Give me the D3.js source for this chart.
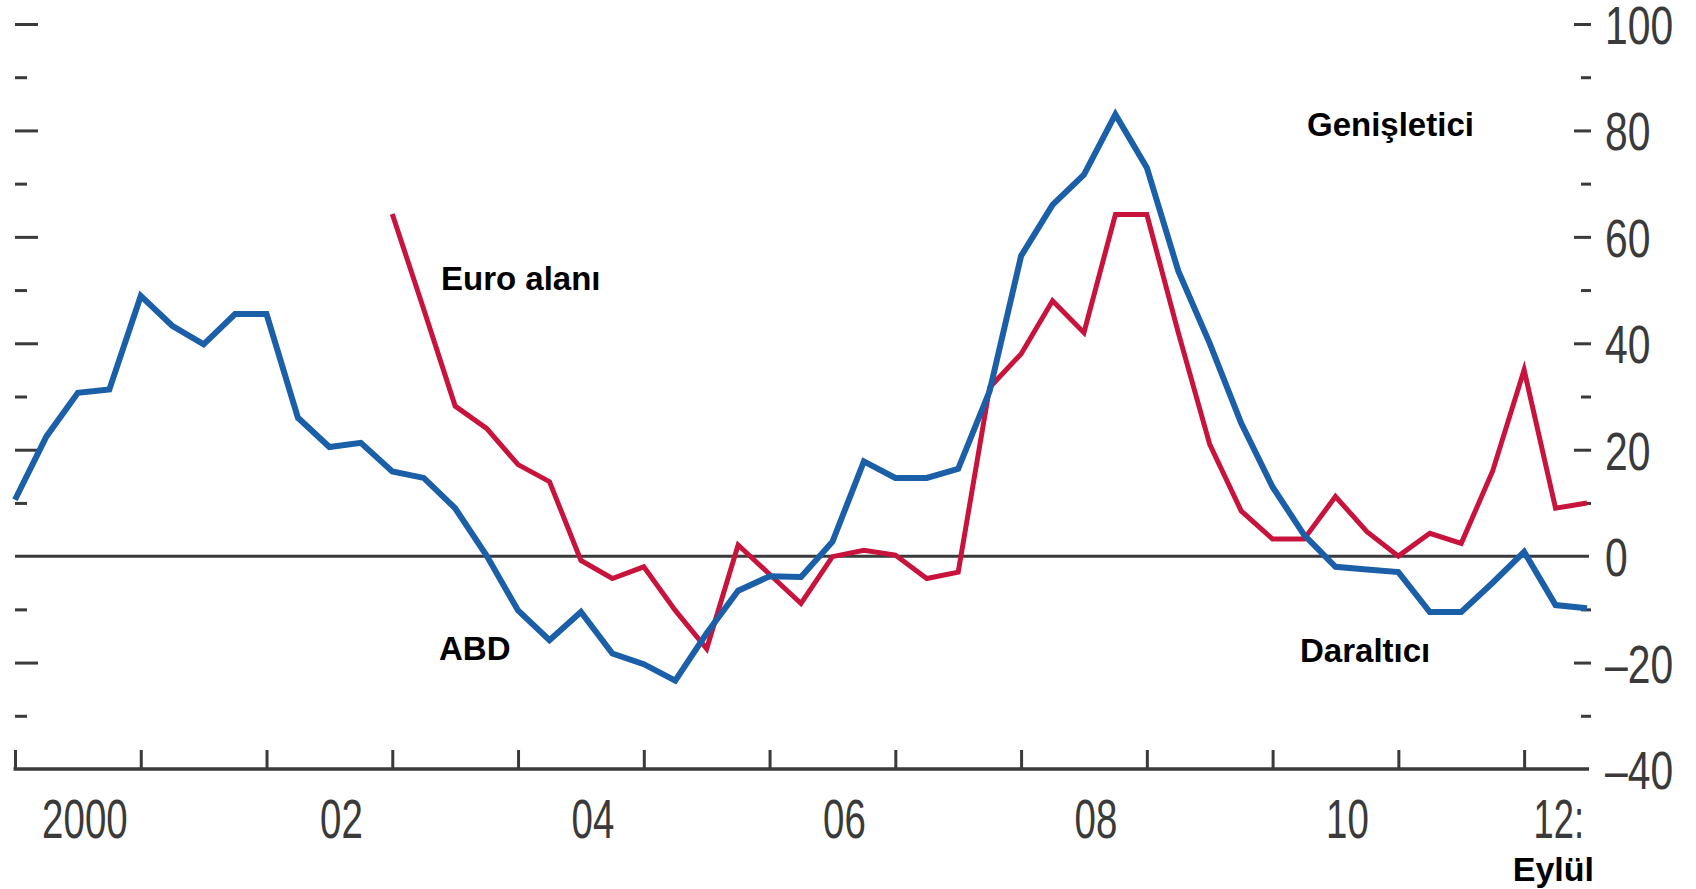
<!DOCTYPE html>
<meta charset="utf-8">
<style>
body { margin: 0; background: #fff; }
svg { display: block; }
.tick line { stroke: #3a3a3a; stroke-width: 3px; }
.num { font-family: "Liberation Sans", Arial, sans-serif; fill: #3a3a3a; }
.lbl { font-family: "Liberation Sans", Arial, sans-serif; font-weight: bold; font-size: 33px; fill: #000; }
</style>
<svg width="1696" height="889"></svg>
<script src="https://d3js.org/d3.v7.min.js"></script>
<script>

// quarterly data, 2000Q1 .. 2012Q3
var quarters = ["2000Q1","2000Q2","2000Q3","2000Q4","2001Q1","2001Q2","2001Q3","2001Q4",
  "2002Q1","2002Q2","2002Q3","2002Q4","2003Q1","2003Q2","2003Q3","2003Q4",
  "2004Q1","2004Q2","2004Q3","2004Q4","2005Q1","2005Q2","2005Q3","2005Q4",
  "2006Q1","2006Q2","2006Q3","2006Q4","2007Q1","2007Q2","2007Q3","2007Q4",
  "2008Q1","2008Q2","2008Q3","2008Q4","2009Q1","2009Q2","2009Q3","2009Q4",
  "2010Q1","2010Q2","2010Q3","2010Q4","2011Q1","2011Q2","2011Q3","2011Q4",
  "2012Q1","2012Q2","2012Q3"];

var abd = [10.6, 22.5, 30.7, 31.3, 48.9, 43.3, 39.8, 45.5,
  45.5, 26, 20.5, 21.3, 15.9, 14.7, 9, 0.1,
  -10.2, -15.8, -10.5, -18.3, -20.3, -23.4, -14.5, -6.5,
  -3.8, -3.9, 2.7, 17.8, 14.7, 14.7, 16.4, 31,
  56.4, 66, 71.7, 83, 73, 53.6, 40, 25,
  13, 4, -2, -2.5, -3, -10.5, -10.5, -5,
  0.8, -9.2, -9.8];

var euro = [null, null, null, null, null, null, null, null,
  null, null, null, null, 64.3, 46.4, 28.2, 24,
  17.2, 14, -0.8, -4.2, -2, -10.2, -17.4, 2.1,
  -3.4, -8.9, -0.1, 1.1, 0.2, -4.2, -3, 31.7,
  38, 48, 42, 64.2, 64.2, 42, 21, 8.5,
  3.2, 3.2, 11.2, 4.6, 0, 4.3, 2.4, 16,
  35, 9, 10];

var yearTicks = [2000, 2001, 2002, 2003, 2004, 2005, 2006, 2007, 2008, 2009, 2010, 2011, 2012];
var yearLabels = [[2000, "2000"], [2002, "02"], [2004, "04"], [2006, "06"], [2008, "08"], [2010, "10"]];
var yMajor = [100, 80, 60, 40, 20, 0, -20, -40];
var yMinor = [90, 70, 50, 30, 10, -10, -30];
var yLabels = ["100", "80", "60", "40", "20", "0", "\u201320", "\u201340"];

var svg = d3.select("svg");

function qToYear(q) { return +q.slice(0, 4) + (+q.slice(5) - 1) / 4; }

var x = d3.scaleLinear().domain([2000, 2012.5]).range([15, 1587]);
var y = d3.scaleLinear().domain([-40, 100]).range([769, 24]);

var inner = yMajor.filter(function(v) { return v != 0 && v != -40; });

// left ticks
svg.append("g").attr("transform", "translate(15,0)")
    .call(d3.axisRight(y).tickValues(inner).tickSize(23).tickFormat(""))
    .call(function(g) { g.select(".domain").remove(); });
svg.append("g").attr("transform", "translate(15,0)")
    .call(d3.axisRight(y).tickValues(yMinor).tickSize(12).tickFormat(""))
    .call(function(g) { g.select(".domain").remove(); });

// right ticks
svg.append("g").attr("transform", "translate(1591,0)")
    .call(d3.axisLeft(y).tickValues(inner).tickSize(17).tickFormat(""))
    .call(function(g) { g.select(".domain").remove(); });
svg.append("g").attr("transform", "translate(1591,0)")
    .call(d3.axisLeft(y).tickValues(yMinor).tickSize(10).tickFormat(""))
    .call(function(g) { g.select(".domain").remove(); });

// right labels
svg.append("g").selectAll("text")
  .data(yMajor)
  .enter().append("text")
    .attr("class", "num")
    .style("font-size", "53px")
    .attr("transform", function(d) { return "translate(1605," + (y(d) + 20) + ") scale(0.77,1)"; })
    .text(function(d, i) { return yLabels[i]; });

// zero line
svg.append("line")
    .attr("x1", x(2000)).attr("x2", 1589)
    .attr("y1", y(0)).attr("y2", y(0))
    .style("stroke", "#3a3a3a").style("stroke-width", 3);

// bottom axis
var xa = svg.append("g").attr("transform", "translate(0," + y(-40) + ")")
    .call(d3.axisBottom(x).tickValues(yearTicks).tickSize(-19).tickSizeOuter(0).tickFormat(""));
xa.select(".domain").remove();
svg.append("line")
    .attr("x1", x(2000) - 1.5).attr("x2", 1589)
    .attr("y1", y(-40)).attr("y2", y(-40))
    .style("stroke", "#3a3a3a").style("stroke-width", 3.5);

svg.append("g").selectAll("text")
  .data(yearLabels)
  .enter().append("text")
    .attr("class", "num")
    .style("font-size", "55px")
    .attr("text-anchor", "middle")
    .attr("transform", function(d) {
      var dx = d[1].length > 2 ? 7 : 12;
      return "translate(" + (x(d[0] + 0.5) + dx) + ",838) scale(0.70,1)";
    })
    .text(function(d) { return d[1]; });

svg.append("text")
    .attr("class", "num")
    .style("font-size", "55px")
    .attr("text-anchor", "end")
    .attr("transform", "translate(1584,838) scale(0.66,1)")
    .text("12:");

// series
var line = d3.line()
    .defined(function(d) { return d[1] != null; })
    .x(function(d) { return x(qToYear(d[0])); })
    .y(function(d) { return y(d[1]); });

svg.append("path")
    .datum(quarters.map(function(q, i) { return [q, euro[i]]; }))
    .attr("d", line)
    .style("fill", "none").style("stroke", "#c8143c").style("stroke-width", 5)
    .style("stroke-linejoin", "miter");

svg.append("path")
    .datum(quarters.map(function(q, i) { return [q, abd[i]]; }))
    .attr("d", line)
    .style("fill", "none").style("stroke", "#1a5fa8").style("stroke-width", 6)
    .style("stroke-linejoin", "miter");

// annotations
svg.append("text").attr("class", "lbl").attr("x", 441).attr("y", 290).text("Euro alanı");
svg.append("text").attr("class", "lbl").attr("x", 439).attr("y", 660).text("ABD");
svg.append("text").attr("class", "lbl").attr("x", 1307).attr("y", 136).text("Genişletici");
svg.append("text").attr("class", "lbl").attr("x", 1300).attr("y", 662).text("Daraltıcı");
svg.append("text").attr("class", "lbl").attr("x", 1594).attr("y", 881)
    .attr("text-anchor", "end").style("font-size", "34px").text("Eylül");

</script>
